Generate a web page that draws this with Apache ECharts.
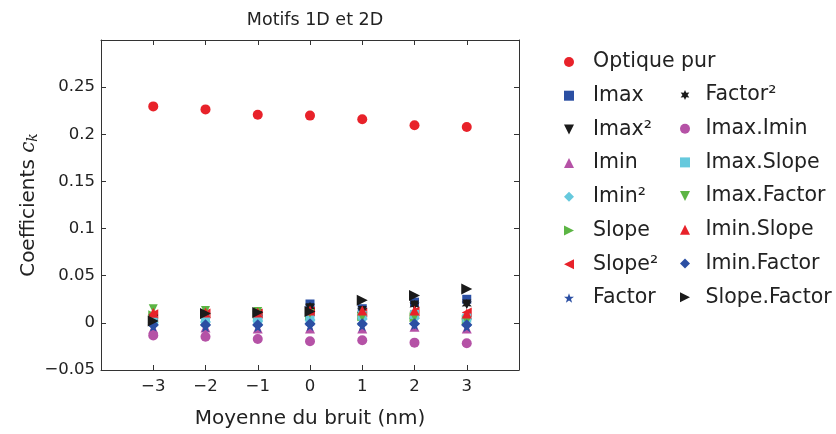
<!DOCTYPE html>
<html><head><meta charset="utf-8">
<script src="https://cdn.jsdelivr.net/npm/echarts@6/dist/echarts.min.js"></script>
<style>html,body{margin:0;padding:0;background:#fff}#c{width:836px;height:434px}</style>
</head><body><div id="c"></div>
<script>
const xValues = [-3, -2, -1, 0, 1, 2, 3];
const xTickLabels = ['\u22123', '\u22122', '\u22121', '0', '1', '2', '3'];
const yTickLabels = ['\u22120.05', '0', '0.05', '0.1', '0.15', '0.2', '0.25'];

const optiquePur   = [0.2296, 0.2264, 0.2208, 0.2198, 0.2159, 0.2095, 0.2077];
const imax         = [0.004, 0.005, 0.008, 0.020, 0.015, 0.022, 0.025];
const imax2        = [0.005, 0.007, 0.010, 0.016, 0.013, 0.019, 0.020];
const imin         = [-0.006, -0.005, -0.006, -0.006, -0.006, -0.004, -0.006];
const imin2        = [0.000, 0.001, 0.002, 0.003, 0.004, 0.005, 0.004];
const slope        = [0.008, 0.009, 0.009, 0.008, 0.007, 0.006, 0.003];
const slope2       = [0.009, 0.010, 0.010, 0.012, 0.011, 0.012, 0.011];
const factor       = [-0.004, -0.004, -0.004, -0.003, -0.003, -0.002, -0.004];
const factor2      = [0.006, 0.008, 0.010, 0.017, 0.013, 0.019, 0.020];
const imaxImin     = [-0.0133, -0.0147, -0.0171, -0.0196, -0.0185, -0.0210, -0.0217];
const imaxSlope    = [0.002, 0.004, 0.004, 0.005, 0.008, 0.009, 0.005];
const imaxFactor   = [0.015, 0.013, 0.012, 0.010, 0.006, 0.006, 0.002];
const iminSlope    = [0.0107, 0.011, 0.011, 0.013, 0.013, 0.013, 0.010];
const iminFactor   = [-0.002, -0.002, -0.002, -0.001, -0.001, -0.001, -0.002];
const slopeFactor  = [0.002, 0.010, 0.011, 0.012, 0.024, 0.029, 0.036];

function starPath(n, rOut, rIn) {
  let d = '';
  for (let i = 0; i < 2 * n; i++) {
    const r = i % 2 === 0 ? rOut : rIn;
    const a = -Math.PI / 2 + i * Math.PI / n;
    d += (i === 0 ? 'M' : 'L') + (r * Math.cos(a)).toFixed(3) + ' ' + (r * Math.sin(a)).toFixed(3);
  }
  return 'path://' + d + 'Z';
}
const STAR5 = starPath(5, 10, 4);
const STAR6 = starPath(6, 10, 5);
const TRI_UP = 'path://M0 10L10 10L5 0Z';
const TRI_DOWN = 'path://M0 0L10 0L5 10Z';
const TRI_RIGHT = 'path://M0 0L10 5L0 10Z';
const TRI_LEFT = 'path://M10 0L0 5L10 10Z';

const defs = [
  ['Optique pur', optiquePur, 'circle', '#e8222a', 10],
  ['Imax', imax, 'rect', '#2b4fa3', 9],
  ['Imax\u00b2', imax2, TRI_DOWN, '#1a1a1a', 9],
  ['Imin', imin, TRI_UP, '#b552a6', 10],
  ['Imin\u00b2', imin2, 'diamond', '#66c9dd', 11],
  ['Slope', slope, TRI_RIGHT, '#5cb544', 10],
  ['Slope\u00b2', slope2, TRI_LEFT, '#e8222a', 10],
  ['Factor', factor, STAR5, '#2b4fa3', 11],
  ['Factor\u00b2', factor2, STAR6, '#1a1a1a', 10],
  ['Imax.Imin', imaxImin, 'circle', '#b552a6', 10],
  ['Imax.Slope', imaxSlope, 'rect', '#66c9dd', 9],
  ['Imax.Factor', imaxFactor, TRI_DOWN, '#5cb544', 9],
  ['Imin.Slope', iminSlope, TRI_UP, '#e8222a', 10],
  ['Imin.Factor', iminFactor, 'diamond', '#2b4fa3', 11],
  ['Slope.Factor', slopeFactor, TRI_RIGHT, '#1a1a1a', 11]
];

const series = defs.map(d => ({
  name: d[0], type: 'scatter', symbol: d[2], symbolSize: d[4],
  itemStyle: { color: d[3], opacity: 1 },
  data: xValues.map((x, i) => [x, d[1][i]]),
  xAxisIndex: 0, yAxisIndex: 0, silent: true
}));

const FONT = '"DejaVu Sans", sans-serif';
const txt = '#222';
const legendItem = d => ({ name: d[0], icon: d[2] });

const axisLineStyle = { show: true, onZero: false, lineStyle: { color: '#333', width: 1 } };
const tickStyle = { show: true, inside: true, length: 5, lineStyle: { color: '#333' } };

const option = {
  animation: false,
  backgroundColor: '#fff',
  title: { text: 'Motifs 1D et 2D', left: 310, top: 6, textAlign: 'center',
    textStyle: { fontFamily: FONT, fontSize: 17.5, fontWeight: 'normal', color: txt } },
  grid: { left: 101, top: 40, width: 418, height: 331.5 },
  legend: [
    { data: defs.slice(0, 8).map(legendItem), orient: 'vertical', left: 564, top: 50, padding: 0,
      itemWidth: 10, itemHeight: 10, itemGap: 9.7,
      textStyle: { fontFamily: FONT, fontSize: 20.5, color: txt, lineHeight: 24, padding: [0, 0, 0, 14] },
      selectedMode: false },
    { data: defs.slice(8).map(legendItem), orient: 'vertical', left: 680, top: 83, padding: 0,
      itemWidth: 10, itemHeight: 10, itemGap: 9.7,
      textStyle: { fontFamily: FONT, fontSize: 20.5, color: txt, lineHeight: 24, padding: [0, 0, 0, 10.5] },
      selectedMode: false }
  ],
  xAxis: [
    { type: 'value', min: -4, max: 4, interval: 1, position: 'bottom',
      name: 'Moyenne du bruit (nm)', nameLocation: 'middle', nameGap: 39,
      nameTextStyle: { fontFamily: FONT, fontSize: 20, color: txt },
      axisLine: axisLineStyle, axisTick: tickStyle,
      axisLabel: { margin: 8, fontFamily: FONT, fontSize: 16.5, color: txt,
        formatter: v => { const i = xValues.indexOf(Math.round(v)); return i >= 0 ? xTickLabels[i] : ''; } },
      splitLine: { show: false } },
    { type: 'value', min: -4, max: 4, interval: 1, position: 'top',
      axisLine: axisLineStyle, axisTick: tickStyle,
      axisLabel: { show: false }, splitLine: { show: false } }
  ],
  yAxis: [
    { type: 'value', min: -0.05, max: 0.3, interval: 0.05, position: 'left',
      name: '{a|Coefficients }{i|c}{s|k}', nameLocation: 'middle', nameGap: 60,
      nameTextStyle: { fontFamily: FONT, fontSize: 20, color: txt,
        rich: { a: { fontFamily: FONT, fontSize: 20, color: txt },
                i: { fontFamily: '"DejaVu Serif", serif', fontStyle: 'italic', fontSize: 20, color: txt },
                s: { fontFamily: '"DejaVu Serif", serif', fontStyle: 'italic', fontSize: 14, color: txt, padding: [9, 0, 0, 0] } } },
      axisLine: axisLineStyle, axisTick: tickStyle,
      axisLabel: { margin: 6, fontFamily: FONT, fontSize: 16.5, color: txt,
        formatter: v => { const i = Math.round(v / 0.05) + 1; return (i >= 0 && i < yTickLabels.length) ? yTickLabels[i] : ''; } },
      splitLine: { show: false } },
    { type: 'value', min: -0.05, max: 0.3, interval: 0.05, position: 'right',
      axisLine: axisLineStyle, axisTick: tickStyle,
      axisLabel: { show: false }, splitLine: { show: false } }
  ],
  series: series
};
const chart = echarts.init(document.getElementById('c'), null, { renderer: 'canvas' });
chart.setOption(option);
</script></body></html>
